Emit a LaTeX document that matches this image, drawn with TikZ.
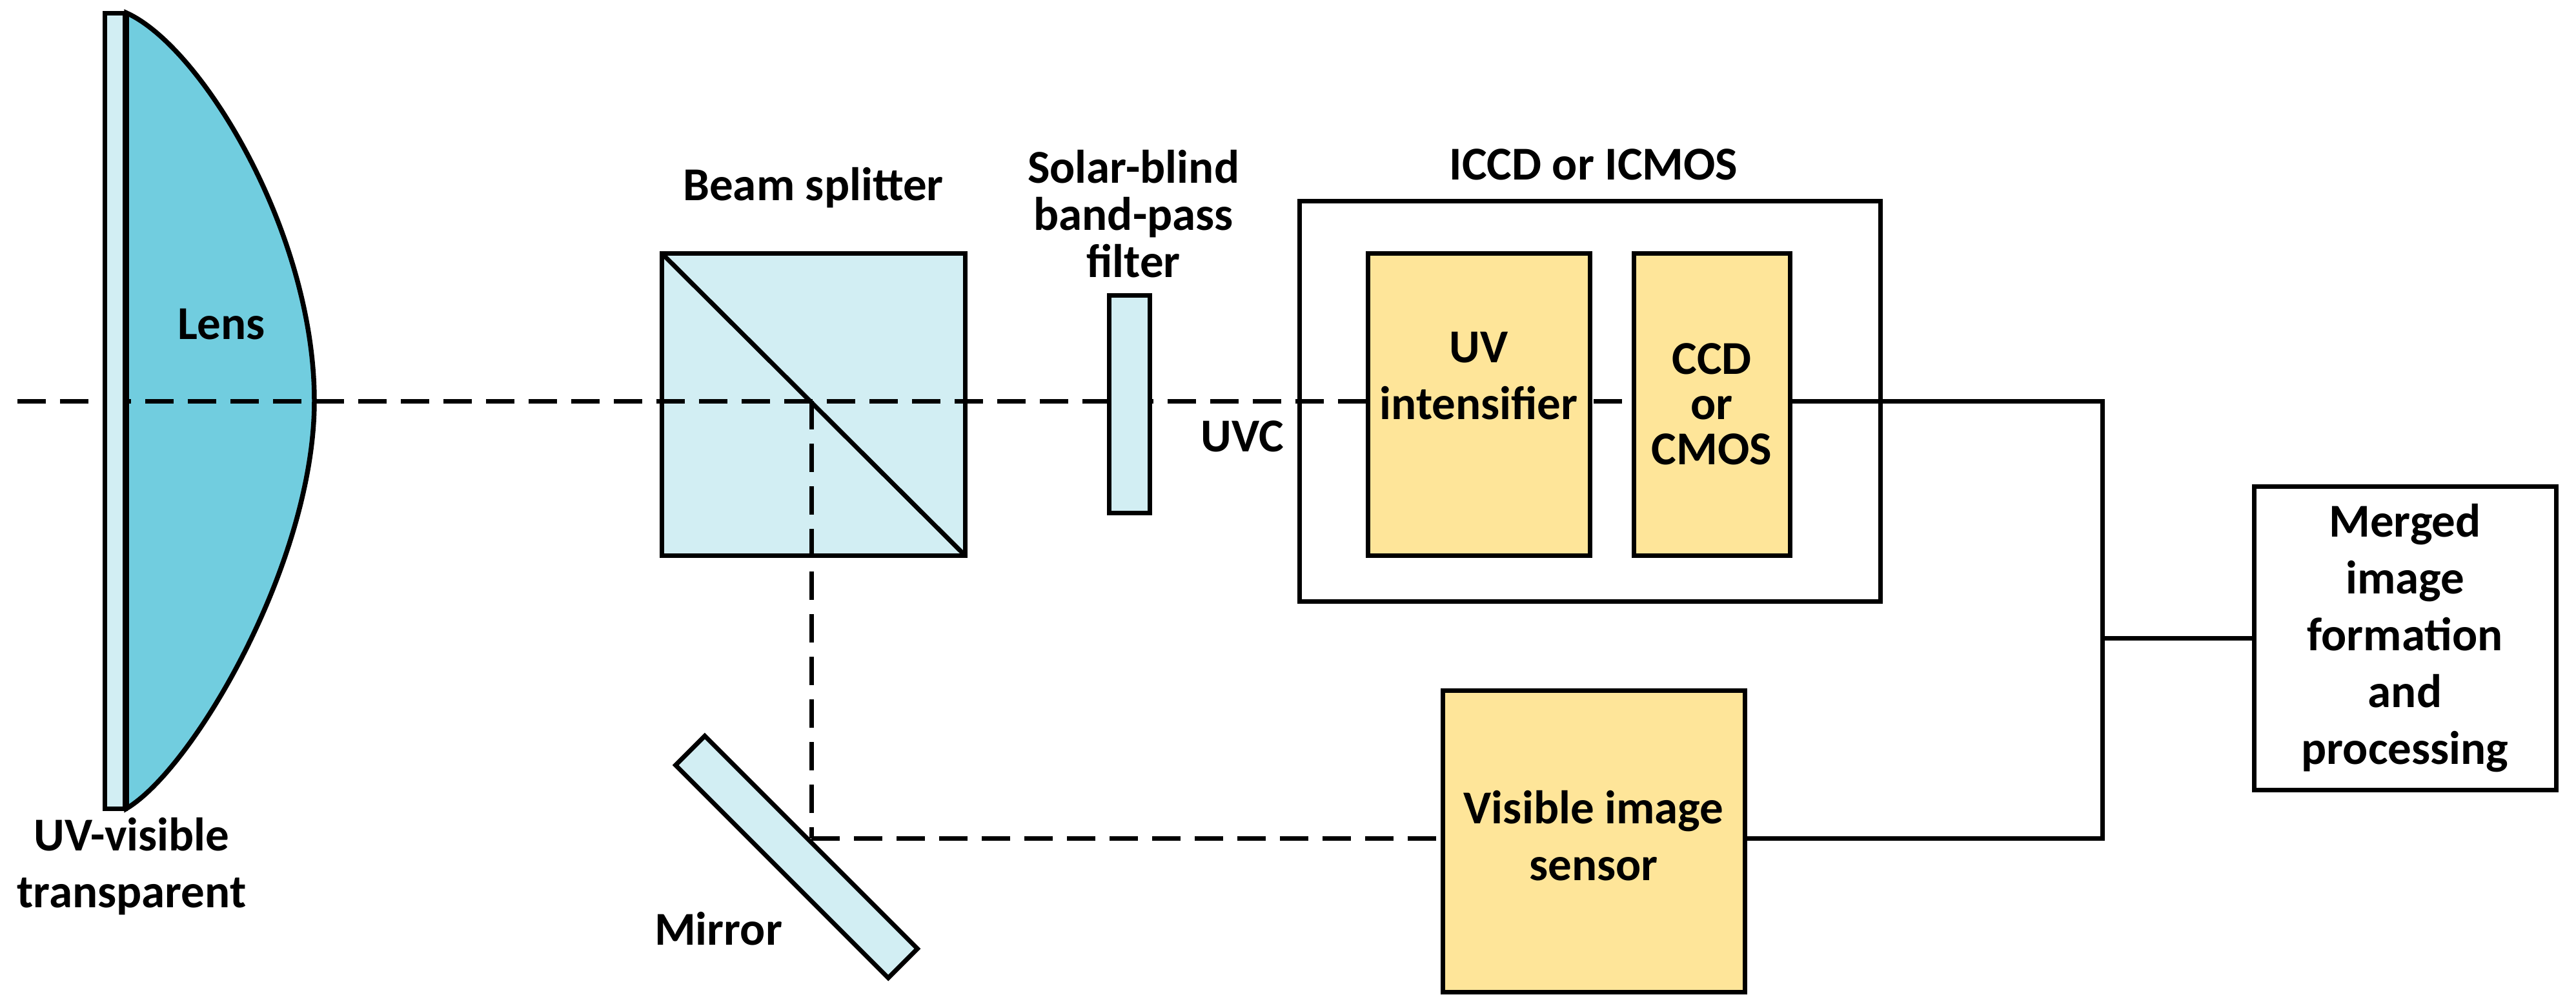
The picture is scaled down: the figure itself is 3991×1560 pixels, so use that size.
\documentclass[tikz,border=0pt]{standalone}
\usepackage{fontspec}
\setmainfont{Carlito}
\usetikzlibrary{positioning}
\definecolor{paleblue}{HTML}{D2EEF3}
\definecolor{lensblue}{HTML}{71CDDF}
\definecolor{sensoryellow}{HTML}{FEE599}

\begin{document}
\begin{tikzpicture}[x=0.1pt,y=-0.1pt,line width=0.7pt,line join=miter,
    txt/.style={inner sep=0pt,outer sep=0pt,align=center,font=\fontsize{7.3}{8.8}\selectfont\bfseries},
    optic/.style={rectangle,draw,fill=paleblue,inner sep=0pt,outer sep=0pt},
    sensor/.style={rectangle,draw,fill=sensoryellow,txt},
    frame/.style={rectangle,draw,txt},
    axis/.style={dash pattern=on 4.4pt off 2.2pt}]
\useasboundingbox (0,0) rectangle (3991,1560);
% Lens, beam splitter and the sensor the axis runs to
\draw [fill=lensblue,line width=0.75pt] (196,20) .. controls (312,72) and (487,360) .. (487,621)
      .. controls (487,870) and (300,1190) .. (196,1252) -- cycle;
\node [txt] (lenslabel) at (343,502) {Lens};
\node [optic,minimum width=47pt,minimum height=46.8pt] (split) at (1260,626) {};
\draw (split.north west) -- (split.south east);
\node [txt,above=7pt of split.north] (splitlabel) {Beam splitter};
\node [sensor,minimum width=24.2pt,minimum height=46.8pt] (ccd) at (2652,626) {CCD\\[-1.8pt]or\\[-1.8pt]CMOS};
% Optical axis and folded path
\coordinate (axisstart) at (27,621);
\coordinate (axisturn) at (1257,621);
\coordinate (foldturn) at (1257,1298);
\coordinate (busup) at (3257,621);
\coordinate (busmid) at (3257,988);
\coordinate (busdown) at (3257,1298);
\draw [axis] (axisstart) -- (ccd.west |- axisstart);
\draw [axis] (axisturn) -- (foldturn);
% Elements in front of the axis
\node [optic,minimum width=3.2pt,minimum height=123.2pt] (plate) at (178,636) {};
\draw [line width=0.9pt] (plate.north east) -- (plate.south east);
\node [txt,below=1.4pt of plate.south,xshift=2.6pt] (platelabel) {UV-visible\\transparent};
\node [optic,minimum width=6.3pt,minimum height=33.7pt] (filter) at (1750,626) {};
\node [txt,above=2.8pt of filter.north,xshift=0.6pt] (filterlabel) {Solar-blind\\[-1.5pt]band-pass\\[-1.5pt]filter};
\node [txt] (uvclabel) at (1925,676) {UVC};
\node [optic,minimum width=46.6pt,minimum height=6.4pt,rotate=-45] (mirror) at (1234,1327) {};
\node [txt] (mirrorlabel) at (1113,1438) {Mirror};
% Sensors and processing
\node [frame,minimum width=90pt,minimum height=62pt] (iccd) at (2463,621) {};
\node [txt,above=3.2pt of iccd.north,xshift=0.6pt] (iccdlabel) {ICCD or ICMOS};
\node [sensor,minimum width=34.4pt,minimum height=46.8pt] (uv) at (2291,626) {UV\\intensifier\\\mbox{}};
\node [sensor,minimum width=46.8pt,minimum height=46.7pt] (vis) at (2469,1303) {};
\node [txt,yshift=0.9pt] (vislabel) at (vis.center) {Visible image\\sensor};
\node [frame,minimum width=46.8pt,minimum height=47pt] (merge) at (3726,988) {Merged\\image\\formation\\and\\processing};
\draw [axis] (foldturn) -- (vis.west |- foldturn);
\draw (ccd.east |- busup) -- (busup) -- (busdown) -- (vis.east |- busdown);
\draw (busmid) -- (merge.west);
\end{tikzpicture}
\end{document}
